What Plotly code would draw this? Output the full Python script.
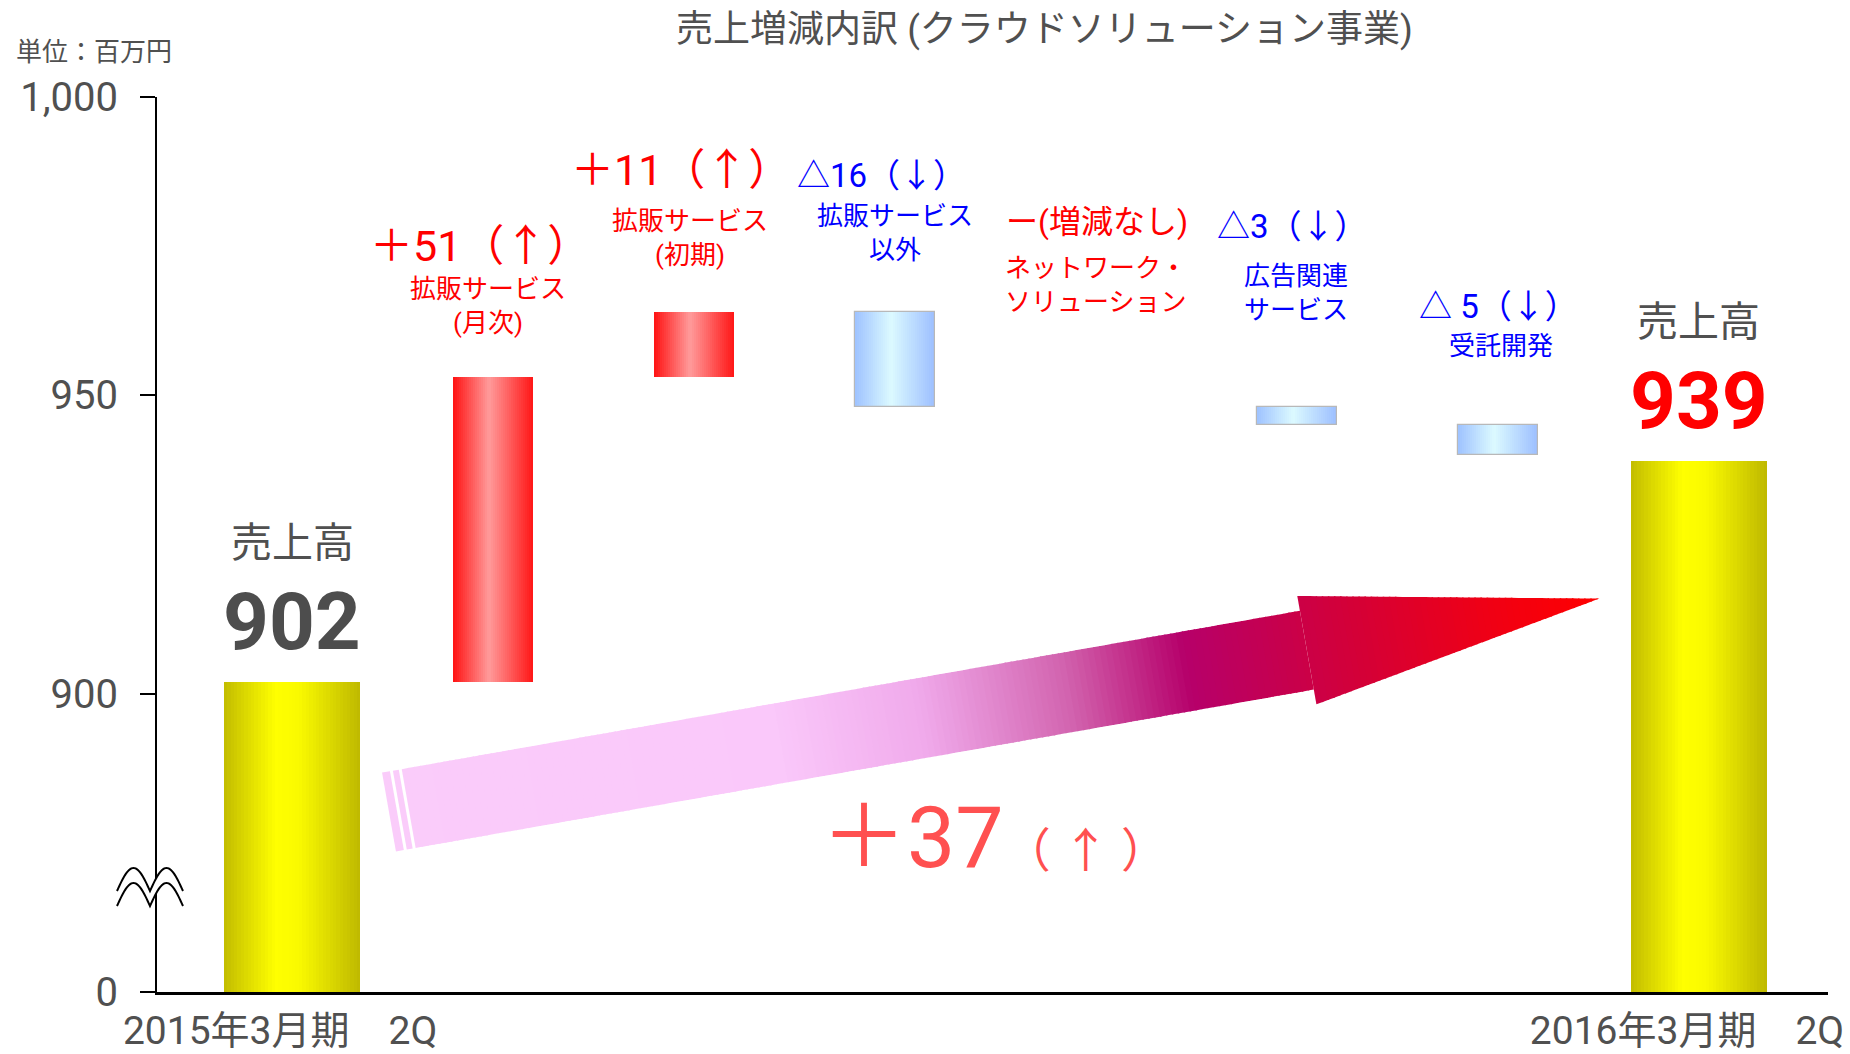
import math
import plotly.graph_objects as go

# ---------------- data ----------------
period_labels = ["2015年3月期　2Q", "2016年3月期　2Q"]
opening_sales = 902
closing_sales = 939
change_names = [
    "拡販サービス<br>(月次)",
    "拡販サービス<br>(初期)",
    "拡販サービス<br>以外",
    "ネットワーク・<br>ソリューション",
    "広告関連<br>サービス",
    "受託開発",
]
change_values = [51, 11, -16, 0, -3, -5]
total_change = 37
y_tick_values = [850, 900, 950, 1000]
y_tick_labels = ["0", "900", "950", "1,000"]
AXIS_FLOOR = 850  # value at which the broken axis reads "0"

# ---------------- styling ----------------
FONT = "Roboto, Noto Sans CJK JP"
GRAY = "#505050"
RED = "#FF0000"
BLUE = "#0000FF"
W, H = 1850, 1054
PL, PR, PT, PB = 157, 1828, 97, 992  # plot area in pixels

YELLOW_STOPS = [(0, (194, 188, 0)), (0.38, (255, 255, 0)), (0.55, (250, 250, 0)), (1, (190, 184, 0))]
RED_STOPS = [(0, (255, 18, 18)), (0.45, (255, 155, 155)), (1, (255, 22, 22))]
BLUE_STOPS = [(0, (158, 194, 255)), (0.45, (220, 250, 255)), (1, (156, 190, 255))]
ARROW_STOPS = [
    (0.00, (250, 204, 250)), (0.32, (250, 200, 250)), (0.44, (240, 170, 235)),
    (0.56, (210, 100, 175)), (0.66, (182, 0, 106)), (0.80, (212, 0, 55)),
    (0.92, (242, 0, 18)), (1.00, (255, 0, 0)),
]


def lerp_color(stops, t):
    t = min(max(t, 0.0), 1.0)
    for (t0, c0), (t1, c1) in zip(stops, stops[1:]):
        if t <= t1:
            f = 0 if t1 == t0 else (t - t0) / (t1 - t0)
            return "rgb({},{},{})".format(*[round(a + (b - a) * f) for a, b in zip(c0, c1)])
    return "rgb({},{},{})".format(*stops[-1][1])


def px_x(px):
    return (px - PL) / (PR - PL)


def px_y(py):
    return (PB - py) / (PB - PT)


# ---------------- waterfall geometry ----------------
bar_x, bar_base, bar_height, bar_width, bar_kind = [], [], [], [], []
bar_x.append(0); bar_base.append(AXIS_FLOOR); bar_height.append(opening_sales - AXIS_FLOOR)
bar_width.append(0.68); bar_kind.append("total")
running = opening_sales
for i, v in enumerate(change_values, start=1):
    nxt = running + v
    if v != 0:
        bar_x.append(i)
        bar_base.append(min(running, nxt))
        bar_height.append(abs(v))
        bar_width.append(0.40)
        bar_kind.append("up" if v > 0 else "down")
    running = nxt
bar_x.append(len(change_values) + 1); bar_base.append(AXIS_FLOOR)
bar_height.append(closing_sales - AXIS_FLOOR); bar_width.append(0.68); bar_kind.append("total")

stops_for = {"total": YELLOW_STOPS, "up": RED_STOPS, "down": BLUE_STOPS}

fig = go.Figure()

# each bar is painted as thin vertical strips to give a cylinder-like shading
N = 40
for j in range(N):
    t = (j + 0.5) / N
    grow = 1.6 if j < N - 1 else 1.0
    fig.add_trace(go.Bar(
        x=bar_x, y=bar_height, base=bar_base,
        width=[w / N * grow for w in bar_width],
        offset=[-w / 2 + j * w / N for w in bar_width],
        marker=dict(color=[lerp_color(stops_for[k], t) for k in bar_kind], line=dict(width=0)),
        hoverinfo="skip", showlegend=False,
    ))

# thin grey outline around the decrease bars
down_idx = [i for i, k in enumerate(bar_kind) if k == "down"]
fig.add_trace(go.Bar(
    x=[bar_x[i] for i in down_idx], y=[bar_height[i] for i in down_idx],
    base=[bar_base[i] for i in down_idx], width=[bar_width[i] for i in down_idx],
    marker=dict(color="rgba(0,0,0,0)", line=dict(color="#B8B8B8", width=1.2)),
    hoverinfo="skip", showlegend=False,
))

shapes = []

# ---------------- big gradient arrow ----------------
tail = (389.0, 812.0)
ang = math.radians(10.0)
ex, ey = math.cos(ang), -math.sin(ang)
nx, ny = -math.sin(ang), -math.cos(ang)
ARROW_LEN, BODY_HALF, HEAD_START, HEAD_HALF = 1229.0, 40.0, 932.0, 55.0


def arrow_pt(u, v):
    return (tail[0] + u * ex + v * nx, tail[1] + u * ey + v * ny)


def half_w(u, head):
    if head:
        return HEAD_HALF * (ARROW_LEN - u) / (ARROW_LEN - HEAD_START)
    return BODY_HALF


def slice_path(u0, u1, head, color):
    pts = [arrow_pt(u0, -half_w(u0, head)), arrow_pt(u1, -half_w(u1, head)),
           arrow_pt(u1, half_w(u1, head)), arrow_pt(u0, half_w(u0, head))]
    path = "M " + " L ".join(f"{px_x(a):.5f},{px_y(b):.5f}" for a, b in pts) + " Z"
    return dict(type="path", xref="paper", yref="paper", path=path,
                fillcolor=color, line=dict(width=0), layer="above")


tail_col = lerp_color(ARROW_STOPS, 0)
shapes.append(slice_path(0, 8, False, tail_col))
shapes.append(slice_path(11, 17, False, tail_col))
step = 6.0
u = 20.0
while u < HEAD_START:
    u1 = min(u + step, HEAD_START)
    ext = min(u1 + 1.5, HEAD_START)
    shapes.append(slice_path(u, ext, False, lerp_color(ARROW_STOPS, (u + u1) / 2 / ARROW_LEN)))
    u = u1
u = HEAD_START
while u < ARROW_LEN:
    u1 = min(u + step, ARROW_LEN)
    ext = min(u1 + 1.5, ARROW_LEN)
    shapes.append(slice_path(u, ext, True, lerp_color(ARROW_STOPS, (u + u1) / 2 / ARROW_LEN)))
    u = u1

# ---------------- axis break mark ----------------
wave_x0, wave_x1, wave_y, wave_amp, wave_gap = 117.0, 183.0, 891.0, 23.0, 15.0
xs = [wave_x0 + (wave_x1 - wave_x0) * k / 60 for k in range(61)]
upper = [(x, wave_y - wave_amp * abs(math.sin(math.pi * (x - wave_x0) / ((wave_x1 - wave_x0) / 2)))) for x in xs]
lower = [(x, y + wave_gap) for x, y in upper]
band = upper + lower[::-1]
shapes.append(dict(type="path", xref="paper", yref="paper", layer="above",
                   path="M " + " L ".join(f"{px_x(a):.5f},{px_y(b):.5f}" for a, b in band) + " Z",
                   fillcolor="white", line=dict(width=0)))
for wave in (upper, lower):
    shapes.append(dict(type="path", xref="paper", yref="paper", layer="above",
                       path="M " + " L ".join(f"{px_x(a):.5f},{px_y(b):.5f}" for a, b in wave),
                       line=dict(color="black", width=2)))

# ---------------- text ----------------
annotations = []


def add_text(text, px, py, size, color, xanchor="center", align="center"):
    annotations.append(dict(
        text=text, x=px_x(px), y=px_y(py), xref="paper", yref="paper",
        xanchor=xanchor, yanchor="middle", align=align, showarrow=False,
        font=dict(family=FONT, size=size, color=color),
    ))


add_text("売上増減内訳 (クラウドソリューション事業)", 1044, 30, 37, GRAY)
add_text("単位：百万円", 14, 52, 26, GRAY, xanchor="left")

# totals, anchored on the bar tops
for xi, val, num_color in ((0, opening_sales, "#4D4D4D"), (len(change_values) + 1, closing_sales, RED)):
    annotations.append(dict(text="売上高", x=xi, y=val, xref="x", yref="y", showarrow=False,
                            yanchor="middle", yshift=139, font=dict(family=FONT, size=41, color=GRAY)))
    annotations.append(dict(text=f"<b>{val}</b>", x=xi, y=val, xref="x", yref="y", showarrow=False,
                            yanchor="middle", yshift=60, font=dict(family=FONT, size=80, color=num_color)))

# change labels
value_pos = [(480, 246, 43), (681, 170, 43), (881, 176, 33), (1097, 222, 32), (1292, 227, 33), (1498, 306, 33)]
name_pos = [(488, 306, "center"), (690, 238, "center"), (895, 233, "center"),
            (1003, 285, "left"), (1296, 292.5, "center"), (1501, 346, "center")]
delta_gap = ["", "", "", "", "", " "]
for v, name, (vx, vy, vs), (nx_, ny_, anc), gap in zip(change_values, change_names, value_pos, name_pos, delta_gap):
    if v > 0:
        label, col = f"＋{v}（↑）", RED
    elif v < 0:
        label, col = f"△{gap}{-v}（↓）", BLUE
    else:
        label, col = "ー(増減なし)", RED
    add_text(label, vx, vy, vs, col)
    add_text(name, nx_, ny_, 26, col, xanchor=anc, align=anc)

# overall change on the arrow (big number, smaller arrow mark on the same baseline)
add_text(f"＋{total_change}<span style='font-size:47px'>（ ↑ ）</span>", 994, 837, 86, "#FF5050")

fig.update_layout(
    width=W, height=H,
    margin=dict(l=PL, r=W - PR, t=PT, b=H - PB),
    paper_bgcolor="white", plot_bgcolor="white",
    barmode="overlay", bargap=0, showlegend=False,
    font=dict(family=FONT, color=GRAY),
    shapes=shapes, annotations=annotations,
)
fig.update_xaxes(
    range=[-0.672, 7.642], tickvals=[0, len(change_values) + 1], ticktext=period_labels,
    showline=True, linecolor="black", linewidth=3, ticks="", showgrid=False, zeroline=False,
    tickfont=dict(family=FONT, size=39, color=GRAY), ticklabelshift=-12, ticklabelstandoff=2,
    automargin=False,
)
fig.update_yaxes(
    range=[AXIS_FLOOR, 1000], tickvals=y_tick_values, ticktext=y_tick_labels,
    showline=True, linecolor="black", linewidth=2, ticks="outside", ticklen=15,
    tickwidth=2, tickcolor="black", showgrid=False, zeroline=False,
    tickfont=dict(family=FONT, size=40, color=GRAY), ticklabelstandoff=14,
    automargin=False,
)

fig.write_html("out.html")
